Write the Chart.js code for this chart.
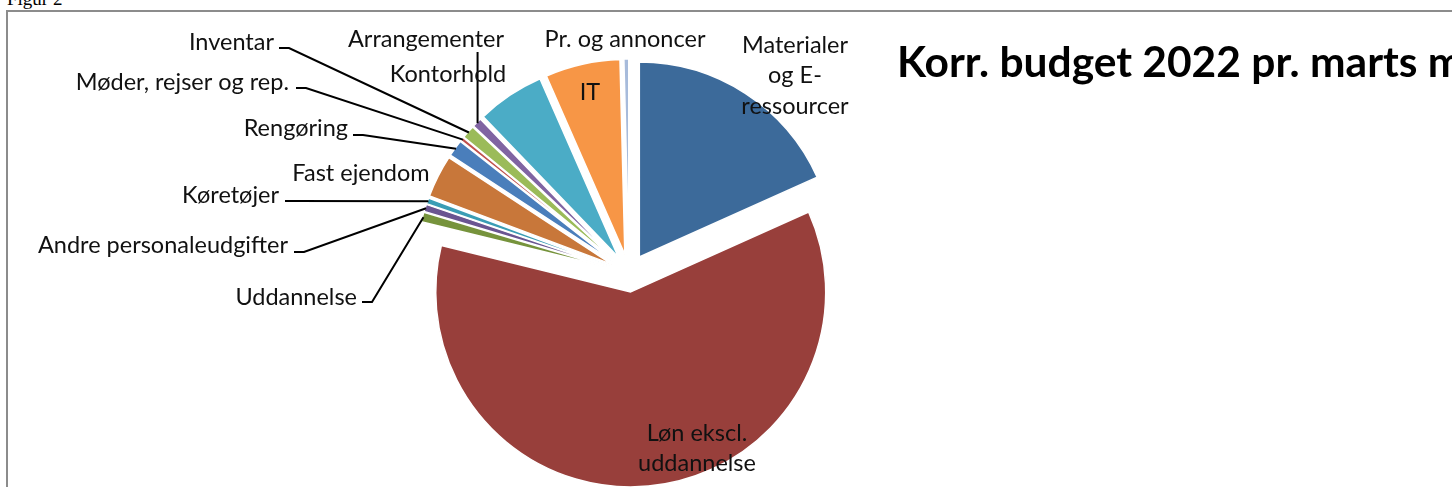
<!DOCTYPE html>
<html>
<head>
<meta charset="utf-8">
<script src="https://cdn.jsdelivr.net/npm/chart.js@4.4.1/dist/chart.umd.min.js"></script>
<style>
  html, body { margin: 0; padding: 0; background: #fff; }
  #page { position: relative; width: 1452px; height: 487px; overflow: hidden; }
  #caption { position: absolute; left: 7px; top: -11px; font: 19px/19px "Liberation Serif", serif; color: #000; }
  #frame { position: absolute; left: 6px; top: 10px; width: 2000px; height: 1000px; border: 2px solid #8c8c8c; box-sizing: border-box; }
  #chartCanvas { position: absolute; left: 0; top: 0; }
</style>
</head>
<body>
<div id="page">
  <div id="caption">Figur 2</div>
  <canvas id="chartCanvas" width="1500" height="600"></canvas>
  <div id="frame"></div>
</div>
<script>
// share of corrected budget, in percent
const categories = [
  "Materialer og E-ressourcer",
  "Løn ekscl. uddannelse",
  "Uddannelse",
  "Andre personaleudgifter",
  "Køretøjer",
  "Fast ejendom",
  "Rengøring",
  "Møder, rejser og rep.",
  "Inventar",
  "Arrangementer",
  "Kontorhold",
  "IT",
  "Pr. og annoncer",
];
const shares = [18.3, 60.6, 0.8, 0.6, 0.5, 3.5, 1.4, 0.3, 1.1, 0.8, 5.6, 6.2, 0.4];
const sliceColors = [
  "#3c6a9a", "#983f3b", "#76933c", "#6a5591", "#3a9db5", "#c8773a",
  "#4a7ebb", "#c0504d", "#9bbb59", "#8064a2", "#4bacc6", "#f79646", "#a7bbdb",
];
const chartTitle = "Korr. budget 2022 pr. marts måned";

const labelFont = '23.5px "Lato", sans-serif';
const titleFont = 'bold 42.5px "Lato", sans-serif';
const explodeBy = 19;

// where each data label sits; stub = short line next to the text
const labelLayout = [
  { lines: ["Materialer", "og E-", "ressourcer"], x: 795, y: 45, align: "center" },
  { lines: ["Løn ekscl.", "uddannelse"], x: 697, y: 433, align: "center" },
  { x: 357, y: 297, align: "right", stub: [[362, 302], [372, 302]] },
  { x: 288, y: 245, align: "right", stub: [[294, 252], [304, 252]] },
  { x: 279, y: 195, align: "right", stub: [[285, 201], [295, 201]] },
  { x: 361, y: 173, align: "center" },
  { x: 348, y: 128, align: "right", stub: [[353, 135], [363, 135]] },
  { x: 289, y: 82, align: "right", stub: [[296, 88], [306, 88]] },
  { x: 274, y: 42, align: "right", stub: [[279, 48], [289, 48]] },
  { x: 426, y: 39, align: "center", drop: 52 },
  { x: 448, y: 74, align: "center" },
  { x: 590, y: 92, align: "center" },
  { x: 625, y: 39, align: "center" },
];

// move every slice out along its middle angle, the way Excel explodes a pie
const explodePlugin = {
  id: "explode",
  beforeDatasetsDraw(chart) {
    chart.getDatasetMeta(0).data.forEach((arc) => {
      if (arc._exploded) return;
      const baseDraw = arc.draw;
      arc.draw = function (ctx, area) {
        const mid = (this.startAngle + this.endAngle) / 2;
        ctx.save();
        ctx.translate(Math.cos(mid) * explodeBy, Math.sin(mid) * explodeBy);
        baseDraw.call(this, ctx, area);
        ctx.restore();
      };
      arc._exploded = true;
    });
  },
};

const labelPlugin = {
  id: "sliceLabels",
  afterDraw(chart) {
    const ctx = chart.ctx;
    const arcs = chart.getDatasetMeta(0).data;
    ctx.save();

    ctx.font = titleFont;
    ctx.fillStyle = "#000";
    ctx.textAlign = "left";
    ctx.textBaseline = "alphabetic";
    ctx.fillText(chartTitle, 897, 77);

    ctx.font = labelFont;
    ctx.fillStyle = "#111";
    ctx.textBaseline = "middle";
    ctx.strokeStyle = "#000";
    ctx.lineWidth = 2;

    arcs.forEach((arc, i) => {
      const layout = labelLayout[i];
      const lines = layout.lines || [categories[i]];
      ctx.textAlign = layout.align;
      lines.forEach((line, k) => {
        ctx.fillText(line, layout.x, layout.y + k * 30.5);
      });

      const mid = (arc.startAngle + arc.endAngle) / 2;
      const r = arc.outerRadius - 1;
      const ax = arc.x + Math.cos(mid) * (explodeBy + r);
      const ay = arc.y + Math.sin(mid) * (explodeBy + r);

      if (layout.stub) {
        ctx.beginPath();
        ctx.moveTo(layout.stub[0][0], layout.stub[0][1]);
        ctx.lineTo(layout.stub[1][0], layout.stub[1][1]);
        ctx.lineTo(ax, ay);
        ctx.stroke();
      } else if (layout.drop) {
        ctx.beginPath();
        ctx.moveTo(ax, layout.drop);
        ctx.lineTo(ax, ay);
        ctx.stroke();
      }
    });
    ctx.restore();
  },
};

const ctx = document.getElementById("chartCanvas").getContext("2d");
new Chart(ctx, {
  type: "pie",
  data: {
    labels: categories,
    datasets: [
      {
        data: shares,
        backgroundColor: sliceColors,
        borderColor: "#fff",
        borderWidth: 1.5,
      },
    ],
  },
  options: {
    responsive: false,
    animation: false,
    radius: 195,
    rotation: 0,
    layout: {
      padding: { left: 0, top: 0, right: 242, bottom: 54 },
    },
    plugins: {
      legend: { display: false },
      tooltip: { enabled: false },
      title: { display: false },
    },
  },
  plugins: [explodePlugin, labelPlugin],
});
</script>
</body>
</html>
